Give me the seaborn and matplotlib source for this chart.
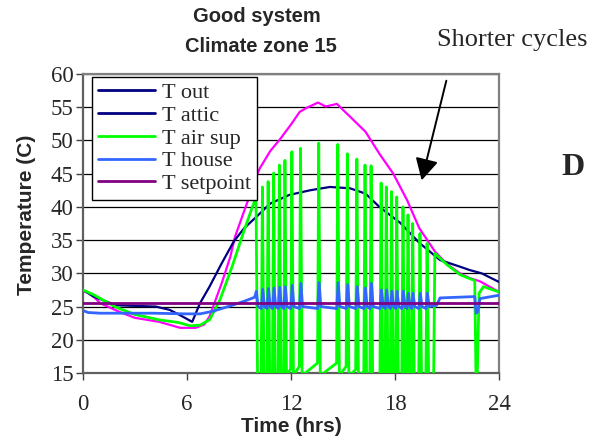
import numpy as np
import pandas as pd
import seaborn as sns
import matplotlib
matplotlib.use("Agg")
import matplotlib.pyplot as plt
from matplotlib.lines import Line2D

# ---------------- data ----------------
out_hours = [0, 0.6, 1.9, 3.0, 4.2, 5.0, 5.6, 6.3, 6.75, 7.3, 8.0, 8.7, 9.3, 10.0, 10.8,
             11.9, 13.1, 14.25, 15.4, 16.3, 17.1, 18.3, 19.4, 20.6, 21.75, 22.3, 23.0, 24.0]
t_out = [27.5, 26.5, 25.2, 25.1, 25.0, 24.5, 23.7, 22.7, 25.5, 28.0, 31.5, 34.8, 36.8, 38.5, 40.5,
         41.8, 42.5, 43.0, 42.8, 42.0, 40.0, 37.6, 34.6, 32.0, 31.0, 30.5, 30.0, 28.7]

attic_hours = [0, 0.4, 1.0, 2.1, 3.0, 4.4, 5.6, 6.5, 7.0, 7.3, 8.0, 8.5, 8.77, 9.52, 9.9, 10.2, 10.8,
               11.37, 12.0, 12.5, 12.9, 13.56, 14.0, 14.65, 15.0, 15.4, 16.3, 17.1, 17.9, 18.7, 19.4,
               20.3, 21.0, 21.75, 22.3, 22.9, 24.0]
t_attic = [27.3, 27.0, 25.5, 24.2, 23.3, 22.7, 21.8, 21.8, 22.3, 23.5, 28.5, 32.5, 35.5, 41.0, 44.0, 45.8, 48.4,
           50.2, 52.4, 54.3, 54.9, 55.7, 55.1, 55.5, 54.6, 53.6, 51.3, 48.0, 45.0, 41.0, 36.8,
           33.3, 31.4, 30.0, 29.3, 28.8, 27.2]

# supply air before cycling starts
sup_pre_hours = [0, 0.6, 1.9, 3.0, 4.4, 5.5, 6.2, 6.75, 7.3, 7.9, 8.6, 9.3]
sup_pre = [27.5, 26.8, 24.9, 23.8, 23.0, 22.6, 22.1, 22.2, 23.0, 26.0, 31.0, 36.5]
# compressor cycles: time of each supply-air peak, peak temperature,
# temperature just before the peak starts rising
cycle_hours = [9.98, 10.35, 10.68, 11.0, 11.33, 11.65, 12.05, 12.55, 13.6, 14.7, 15.25, 15.8,
               16.27, 16.62, 17.2, 17.5, 17.8, 18.1, 18.46, 18.75, 19.02, 19.44, 19.85, 20.3]
sup_peak = [41.5, 43.0, 43.8, 45.1, 46.3, 47.0, 48.3, 48.8, 49.6, 49.4, 48.0, 47.2,
            46.3, 46.2, 43.6, 43.0, 42.3, 41.5, 40.0, 38.8, 37.5, 36.0, 34.5, 33.0]
sup_before = [14.6, 14.6, 14.6, 14.6, 14.8, 15.2, 15.6, 16.0, 16.5, 16.5, 16.0, 15.5,
              15.2, 14.8, 14.6, 14.6, 14.6, 14.6, 14.6, 14.6, 14.6, 14.6, 14.6, 14.6]
sup_trough = 14.6
sup_post_hours = [21.0, 21.75, 22.6, 22.67, 22.75, 22.85, 23.1, 24.0]
sup_post = [31.3, 29.8, 28.9, 14.8, 14.8, 27.0, 28.0, 27.2]

house_pre_hours = [0, 0.3, 1.0, 2.0, 4.0, 6.0, 6.75, 7.5, 8.5, 9.3, 9.9]
t_house_pre = [24.4, 24.1, 24.0, 24.0, 24.0, 23.9, 23.9, 24.3, 25.1, 25.8, 26.4]
house_peak = [27.3, 27.6, 27.7, 27.8, 27.9, 28.0, 28.2, 28.5, 28.6, 28.6, 28.3, 28.0,
              27.8, 28.5, 27.5, 27.5, 27.3, 27.3, 27.3, 27.0, 27.0, 27.0, 27.0]
house_base = 24.7
house_post_hours = [20.4, 20.6, 22.6, 22.68, 22.78, 22.9, 24.0]
t_house_post = [25.2, 26.3, 26.5, 24.0, 24.2, 26.2, 26.7]

setpoint_hours = [0, 24]
t_setpoint = [25.56, 25.56]

legend_labels = ["T out", "T attic", "T air sup", "T house", "T setpoint"]
legend_colors = ["#000080", "#000080", "#00FF00", "#3366FF", "#800080"]
y_ticks = [15, 20, 25, 30, 35, 40, 45, 50, 55, 60]
x_ticks = [0, 6, 12, 18, 24]

# ---------------- assemble piecewise series ----------------
sup_h, sup_t = list(sup_pre_hours), list(sup_pre)
n = len(cycle_hours)
for i in range(n):
    if i > 0:
        sup_h.append(cycle_hours[i] - 0.07); sup_t.append(sup_before[i])
    sup_h.append(cycle_hours[i]); sup_t.append(sup_peak[i])
    if i < n - 1:
        sup_h.append(cycle_hours[i] + 0.09); sup_t.append(sup_trough)
sup_h += sup_post_hours; sup_t += sup_post

house_h, house_t = list(house_pre_hours), list(t_house_pre)
for i in range(n - 1):
    if i > 0:
        house_h.append(cycle_hours[i] - 0.06); house_t.append(house_base)
    house_h.append(cycle_hours[i] + 0.02); house_t.append(house_peak[i])
    house_h.append(cycle_hours[i] + 0.12); house_t.append(house_base + 0.3)
house_h += house_post_hours; house_t += t_house_post

# ---------------- plot ----------------
sns.set_theme(style="white")
plt.rcParams['font.family'] = ['Liberation Serif', 'DejaVu Serif']

W, H = 613, 444
fig = plt.figure(figsize=(W / 100, H / 100), dpi=100)
ax = fig.add_axes([83 / W, 1 - 373 / H, 416 / W, 299 / H])

def draw(h, t, color, lw, z):
    df = pd.DataFrame({"h": h, "t": t})
    sns.lineplot(data=df, x="h", y="t", ax=ax, color=color, lw=lw,
                 sort=False, estimator=None, zorder=z, legend=False)

draw(attic_hours, t_attic, "#FF00FF", 1.6, 3)
draw(out_hours, t_out, "#000080", 1.6, 4)
draw(sup_h, sup_t, "#00FF00", 2.0, 5)
draw(house_h, house_t, "#3366FF", 2.0, 6)
draw(setpoint_hours, t_setpoint, "#800080", 2.0, 7)

ax.set_xlim(0, 24)
ax.set_ylim(15, 60)
ax.set_xticks(x_ticks)
ax.set_yticks(y_ticks)
ax.set_xlabel("")
ax.set_ylabel("")
ax.yaxis.grid(True, color="black", lw=0.9)
ax.set_axisbelow(True)
for s in ax.spines.values():
    s.set_color("#808080")
    s.set_linewidth(1.6)
ax.spines["left"].set_color("#606060")
ax.spines["bottom"].set_color("#606060")
ax.tick_params(direction="out", length=5, width=1, color="#404040",
               labelsize=16.5, pad=2, left=True, bottom=True)
ax.tick_params(axis="x", pad=10)
for lab in ax.get_xticklabels() + ax.get_yticklabels():
    lab.set_family("Liberation Serif")

handles = [Line2D([0], [0], color=c, lw=2.0) for c in legend_colors]
leg = ax.legend(handles, legend_labels, loc="upper left", bbox_to_anchor=(0.022, 0.99),
                frameon=True, fancybox=False, edgecolor="black", framealpha=1,
                borderpad=0.25, labelspacing=0.1, handlelength=2.6, handletextpad=0.3,
                borderaxespad=0, prop={"family": "Liberation Serif", "size": 16})
leg.get_frame().set_linewidth(1.0)
leg.set_zorder(10)

sans = ["Liberation Sans", "DejaVu Sans"]
fig.text(257 / W, 1 - 17 / H, "Good system", ha="center", va="center",
         family=sans, weight="bold", size=14.5)
fig.text(261 / W, 1 - 46 / H, "Climate zone 15", ha="center", va="center",
         family=sans, weight="bold", size=14.5)
fig.text(26 / W, 1 - 215 / H, "Temperature (C)", ha="center", va="center",
         rotation=90, family=sans, weight="bold", size=15)
fig.text(291 / W, 1 - 426 / H, "Time (hrs)", ha="center", va="center",
         family=sans, weight="bold", size=15)
fig.text(437 / W, 1 - 40 / H, "Shorter cycles", ha="left", va="center",
         family=["Liberation Serif"], size=19)
fig.text(573 / W, 1 - 167 / H, "D", ha="center", va="center",
         family=["Liberation Serif"], weight="bold", size=23)
ax.annotate("", xy=(421, H - 183), xycoords="figure pixels",
            xytext=(447, H - 78), textcoords="figure pixels",
            arrowprops=dict(arrowstyle="-|>,head_length=0.6,head_width=0.32",
                            color="black", lw=1.4, mutation_scale=22))

fig.savefig("out.png", dpi=100)
